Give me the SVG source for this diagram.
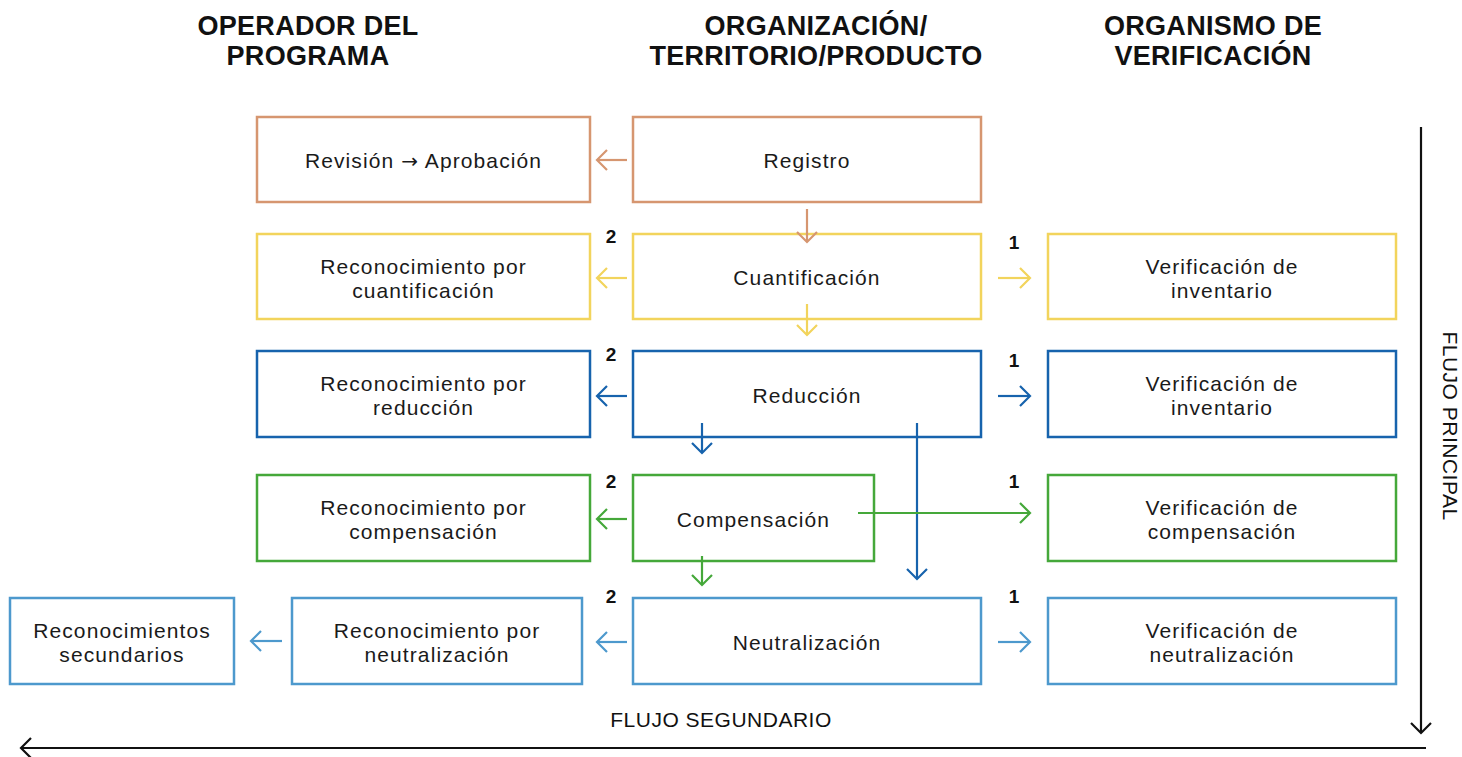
<svg xmlns="http://www.w3.org/2000/svg" width="1462" height="757" viewBox="0 0 1462 757">
<style>
.hdr{font-family:"Liberation Sans",Arial,sans-serif;font-weight:bold;font-size:27px;letter-spacing:0.3px;fill:#111;text-anchor:middle}
.t{font-family:"Liberation Sans",Arial,sans-serif;font-size:21px;letter-spacing:1.1px;fill:#1a1a1a;text-anchor:middle}
.arr{font-family:"DejaVu Sans",sans-serif;font-size:20px}
.num{font-family:"Liberation Sans",Arial,sans-serif;font-weight:bold;font-size:19px;fill:#111;text-anchor:middle}
.lbl{font-family:"Liberation Sans",Arial,sans-serif;font-size:21px;letter-spacing:0.5px;fill:#111;text-anchor:middle}
rect{fill:#fff;stroke-width:2.5}
.or{stroke:#d69670}.ye{stroke:#f2d45c}.db{stroke:#1763ad}.gr{stroke:#45a83a}.lb{stroke:#4d99cd}.bk{stroke:#111}
.a{fill:none;stroke-width:2.2}
.ao{marker-end:url(#mo)}.ay{marker-end:url(#my)}.ad{marker-end:url(#md)}.ag{marker-end:url(#mg)}.al{marker-end:url(#ml)}.ak{marker-end:url(#mk)}
</style>
<defs>
<marker id="mo" markerUnits="userSpaceOnUse" viewBox="-12 -12 24 24" markerWidth="24" markerHeight="24" refX="0" refY="0" orient="auto"><path d="M-10,-10 L0,0 L-10,10" fill="none" stroke="#d69670" stroke-width="2.2"/></marker>
<marker id="my" markerUnits="userSpaceOnUse" viewBox="-12 -12 24 24" markerWidth="24" markerHeight="24" refX="0" refY="0" orient="auto"><path d="M-10,-10 L0,0 L-10,10" fill="none" stroke="#f2d45c" stroke-width="2.2"/></marker>
<marker id="md" markerUnits="userSpaceOnUse" viewBox="-12 -12 24 24" markerWidth="24" markerHeight="24" refX="0" refY="0" orient="auto"><path d="M-10,-10 L0,0 L-10,10" fill="none" stroke="#1763ad" stroke-width="2.2"/></marker>
<marker id="mg" markerUnits="userSpaceOnUse" viewBox="-12 -12 24 24" markerWidth="24" markerHeight="24" refX="0" refY="0" orient="auto"><path d="M-10,-10 L0,0 L-10,10" fill="none" stroke="#45a83a" stroke-width="2.2"/></marker>
<marker id="ml" markerUnits="userSpaceOnUse" viewBox="-12 -12 24 24" markerWidth="24" markerHeight="24" refX="0" refY="0" orient="auto"><path d="M-10,-10 L0,0 L-10,10" fill="none" stroke="#4d99cd" stroke-width="2.2"/></marker>
<marker id="mk" markerUnits="userSpaceOnUse" viewBox="-12 -12 24 24" markerWidth="24" markerHeight="24" refX="0" refY="0" orient="auto"><path d="M-10,-10 L0,0 L-10,10" fill="none" stroke="#111" stroke-width="2.2"/></marker>
</defs>
<rect x="0" y="0" width="1462" height="757" style="fill:#fff;stroke:none"/>

<g id="headers">
<text class="hdr" x="308" y="35">OPERADOR DEL</text>
<text class="hdr" x="308" y="65">PROGRAMA</text>
<text class="hdr" x="816" y="35">ORGANIZACIÓN/</text>
<text class="hdr" x="816" y="65">TERRITORIO/PRODUCTO</text>
<text class="hdr" x="1213" y="35">ORGANISMO DE</text>
<text class="hdr" x="1213" y="65">VERIFICACIÓN</text>
</g>

<g id="n-revision"><rect class="or" x="257" y="117" width="333" height="85"/><text class="t" x="423.5" y="168">Revisión <tspan class="arr">→</tspan> Aprobación</text></g>
<g id="n-registro"><rect class="or" x="633" y="117" width="348" height="85"/><text class="t" x="807" y="168">Registro</text></g>

<g id="n-rec-cuant"><rect class="ye" x="257" y="234" width="333" height="85"/><text class="t" x="423.5" y="274">Reconocimiento por</text><text class="t" x="423.5" y="298">cuantificación</text></g>
<g id="n-cuant"><rect class="ye" x="633" y="234" width="348" height="85"/><text class="t" x="807" y="285">Cuantificación</text></g>
<g id="n-ver-inv1"><rect class="ye" x="1048" y="234" width="348" height="85"/><text class="t" x="1222" y="274">Verificación de</text><text class="t" x="1222" y="298">inventario</text></g>

<g id="n-rec-red"><rect class="db" x="257" y="351" width="333" height="86"/><text class="t" x="423.5" y="391">Reconocimiento por</text><text class="t" x="423.5" y="415">reducción</text></g>
<g id="n-red"><rect class="db" x="633" y="351" width="348" height="86"/><text class="t" x="807" y="403">Reducción</text></g>
<g id="n-ver-inv2"><rect class="db" x="1048" y="351" width="348" height="86"/><text class="t" x="1222" y="391">Verificación de</text><text class="t" x="1222" y="415">inventario</text></g>

<g id="n-rec-comp"><rect class="gr" x="257" y="475" width="333" height="86"/><text class="t" x="423.5" y="515">Reconocimiento por</text><text class="t" x="423.5" y="539">compensación</text></g>
<g id="n-comp"><rect class="gr" x="633" y="475" width="241" height="86"/><text class="t" x="753.5" y="527">Compensación</text></g>
<g id="n-ver-comp"><rect class="gr" x="1048" y="475" width="348" height="86"/><text class="t" x="1222" y="515">Verificación de</text><text class="t" x="1222" y="539">compensación</text></g>

<g id="n-rec-sec"><rect class="lb" x="10" y="598" width="224" height="86"/><text class="t" x="122" y="638">Reconocimientos</text><text class="t" x="122" y="662">secundarios</text></g>
<g id="n-rec-neut"><rect class="lb" x="292" y="598" width="290" height="86"/><text class="t" x="437" y="638">Reconocimiento por</text><text class="t" x="437" y="662">neutralización</text></g>
<g id="n-neut"><rect class="lb" x="633" y="598" width="348" height="86"/><text class="t" x="807" y="650">Neutralización</text></g>
<g id="n-ver-neut"><rect class="lb" x="1048" y="598" width="348" height="86"/><text class="t" x="1222" y="638">Verificación de</text><text class="t" x="1222" y="662">neutralización</text></g>

<g id="connectors">
<path class="a or ao" d="M627,160 L597,160"/>
<path class="a or ao" d="M807,209 L807,242"/>
<path class="a ye ay" d="M627,278 L597,278"/>
<path class="a ye ay" d="M998,278 L1030,278"/>
<path class="a ye ay" d="M807,304 L807,335"/>
<path class="a db ad" d="M627,396 L597,396"/>
<path class="a db ad" d="M998,396 L1030,396"/>
<path class="a db ad" d="M702,423 L702,453"/>
<path class="a db ad" d="M917,423 L917,579"/>
<path class="a gr ag" d="M627,519 L597,519"/>
<path class="a gr ag" d="M858,513 L1030,513"/>
<path class="a gr ag" d="M702,556 L702,585"/>
<path class="a lb al" d="M627,642 L597,642"/>
<path class="a lb al" d="M282,641 L251,641"/>
<path class="a lb al" d="M998,642 L1030,642"/>
<path class="a bk ak" d="M1421,127 L1421,733"/>
<path class="a bk ak" d="M1426,748 L21,748"/>
</g>

<g id="labels">
<text class="num" x="611" y="243">2</text>
<text class="num" x="1014" y="249">1</text>
<text class="num" x="611" y="361">2</text>
<text class="num" x="1014" y="367">1</text>
<text class="num" x="611" y="488">2</text>
<text class="num" x="1014" y="488">1</text>
<text class="num" x="611" y="603">2</text>
<text class="num" x="1014" y="603">1</text>
<text class="lbl" x="721" y="727">FLUJO SEGUNDARIO</text>
<text class="lbl" transform="translate(1443,426) rotate(90)">FLUJO PRINCIPAL</text>
</g>
</svg>
